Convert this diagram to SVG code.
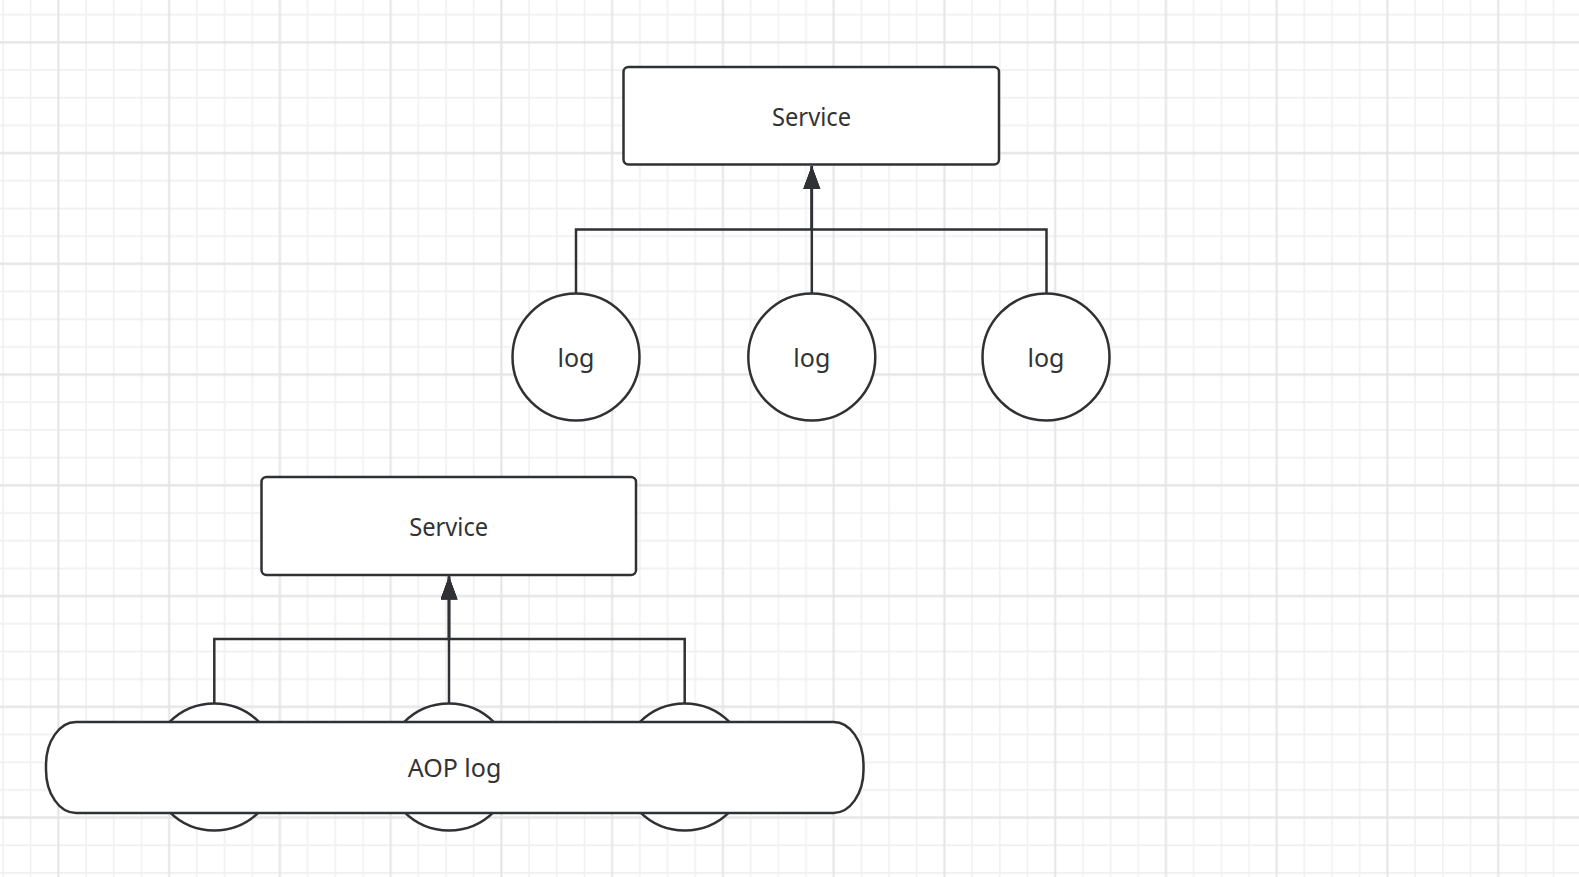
<svg xmlns="http://www.w3.org/2000/svg" width="1579" height="877" viewBox="0 0 1579 877">
<defs>
<pattern id="grid" patternUnits="userSpaceOnUse" x="-10.8" y="-26.9" width="110.75" height="110.75">
<path d="M13.84 0V110.75M41.53 0V110.75M96.91 0V110.75M0 13.84H110.75M0 41.53H110.75M0 96.91H110.75" stroke="#f0f0f0" stroke-width="1.6" fill="none"/>
<path d="M69.22 0V110.75M0 69.22H110.75" stroke="#e4e4e4" stroke-width="2" fill="none"/>
</pattern>
<marker id="arr" markerUnits="userSpaceOnUse" markerWidth="24" markerHeight="18" refX="23" refY="8.5" orient="auto">
<path d="M0 0L23 8.5L0 17z" fill="#2f3135"/>
</marker>
<style>
.shape{fill:#fff;stroke:#2f3135;stroke-width:2.5}
.lbl{font-family:"Noto Sans","Open Sans",sans-serif;font-size:25px;fill:#333;text-anchor:middle}
.conn{fill:none;stroke:#2f3135;stroke-width:2.5}
</style>
</defs>
<rect width="1579" height="877" fill="#fff"/>
<rect width="1579" height="877" fill="url(#grid)"/>

<g id="service-top">
<rect class="shape" x="623.5" y="67" width="375.5" height="97.5" rx="5"/>
<text class="lbl" x="811.5" y="125.5" textLength="79" lengthAdjust="spacingAndGlyphs">Service</text>
</g>
<g id="log-1">
<circle class="shape" cx="576" cy="357" r="63.5"/>
<text class="lbl" x="576" y="366.5">log</text>
</g>
<g id="log-2">
<circle class="shape" cx="811.8" cy="357" r="63.5"/>
<text class="lbl" x="811.8" y="366.5">log</text>
</g>
<g id="log-3">
<circle class="shape" cx="1046" cy="357" r="63.5"/>
<text class="lbl" x="1046" y="366.5">log</text>
</g>

<g id="service-bottom">
<rect class="shape" x="261.5" y="477" width="374.5" height="98" rx="5"/>
<text class="lbl" x="448.7" y="535.5" textLength="79" lengthAdjust="spacingAndGlyphs">Service</text>
</g>
<g id="log-b1"><circle class="shape" cx="214.3" cy="767" r="63.5"/></g>
<g id="log-b2"><circle class="shape" cx="449" cy="767" r="63.5"/></g>
<g id="log-b3"><circle class="shape" cx="684.7" cy="767" r="63.5"/></g>
<g id="aop-log">
<rect class="shape" x="46" y="722" width="817.5" height="91" rx="30" ry="43"/>
<text class="lbl" x="454.5" y="776.5">AOP log</text>
</g>

<g id="connectors">
<path class="conn" d="M576 293.5V229.5H811.8V166" marker-end="url(#arr)"/>
<path class="conn" d="M811.8 293.5V166" marker-end="url(#arr)"/>
<path class="conn" d="M1046.5 293.5V229.5H811.8V166" marker-end="url(#arr)"/>
<path class="conn" d="M214.3 703.5V639H449V576.5" marker-end="url(#arr)"/>
<path class="conn" d="M449 703.5V576.5" marker-end="url(#arr)"/>
<path class="conn" d="M684.7 703.5V639H449V576.5" marker-end="url(#arr)"/>
</g>
</svg>
